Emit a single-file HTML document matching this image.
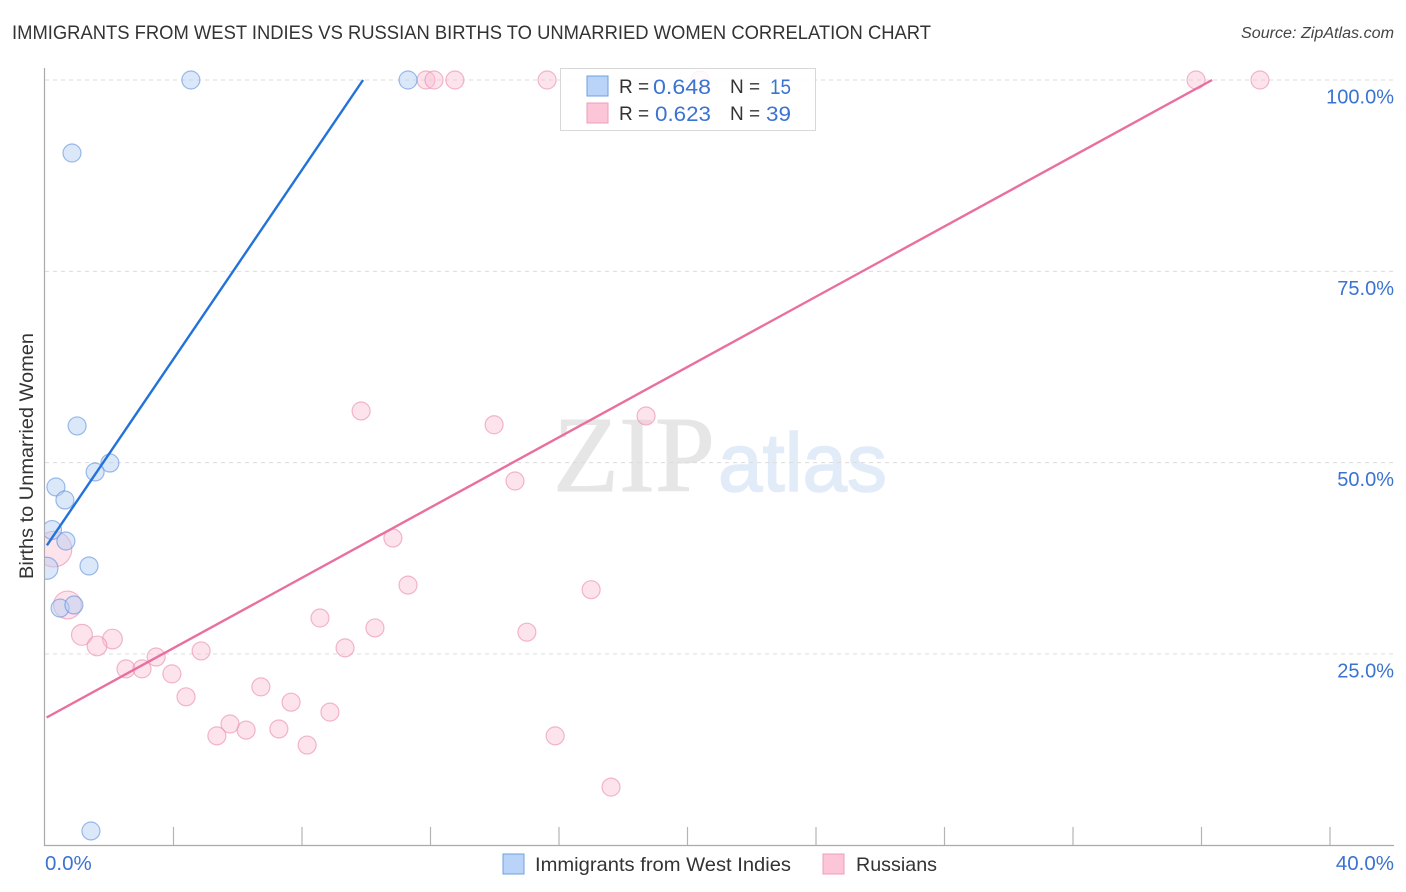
<!DOCTYPE html>
<html lang="en">
<head>
<meta charset="utf-8">
<title>Immigrants from West Indies vs Russian Births to Unmarried Women Correlation Chart</title>
<style>
html,body{margin:0;padding:0;background:#fff;}
body{width:1406px;height:892px;overflow:hidden;}
svg{display:block;}
text{font-family:"Liberation Sans",sans-serif;}
</style>
</head>
<body>
<svg id="chart" xmlns="http://www.w3.org/2000/svg" width="1406" height="892" viewBox="0 0 1406 892">
  <defs><clipPath id="plot-clip"><rect x="45" y="60" width="1349" height="786"/></clipPath></defs>
  <text x="12" y="39" font-size="19" fill="#333" textLength="919" lengthAdjust="spacingAndGlyphs">IMMIGRANTS FROM WEST INDIES VS RUSSIAN BIRTHS TO UNMARRIED WOMEN CORRELATION CHART</text>
  <text x="1394" y="38" font-size="15.5" font-style="italic" fill="#444" text-anchor="end" textLength="153" lengthAdjust="spacingAndGlyphs">Source: ZipAtlas.com</text>
  <g>
    <text x="553" y="491" font-size="108" fill="#e6e6e6" stroke="#e6e6e6" stroke-width="1" style="font-family:'Liberation Serif',serif" textLength="162" lengthAdjust="spacingAndGlyphs">ZIP</text>
    <text x="718" y="491" font-size="83" fill="#e2ecf9" stroke="#e2ecf9" stroke-width="1.5" textLength="169" lengthAdjust="spacingAndGlyphs">atlas</text>
  </g>
  <g id="grid"></g>
  <g id="axes"></g>
  <g id="points" clip-path="url(#plot-clip)"></g>
  <g id="trends"></g>
  <text transform="translate(33,456) rotate(-90)" font-size="19" fill="#333" text-anchor="middle" textLength="246" lengthAdjust="spacingAndGlyphs">Births to Unmarried Women</text>

  <g>
    <rect x="560.5" y="68.5" width="255" height="62" fill="#fff" fill-opacity="0.85" stroke="#d8d8d8"/>
    <rect x="587" y="76" width="21" height="20" fill="#b9d4f8" stroke="#6f9fe0"/>
    <rect x="587" y="103" width="21" height="20" fill="#fcc5d8" stroke="#ee9db8"/>
    <text x="619" y="93" font-size="19" fill="#333">R =</text>
    <text x="653" y="94" font-size="21" fill="#3b73d1" textLength="58" lengthAdjust="spacingAndGlyphs">0.648</text>
    <text x="730" y="93" font-size="19" fill="#333">N =</text>
    <text x="770" y="94" font-size="21" fill="#3b73d1" textLength="21" lengthAdjust="spacingAndGlyphs">15</text>
    <text x="619" y="120" font-size="19" fill="#333">R =</text>
    <text x="655" y="121" font-size="21" fill="#3b73d1" textLength="56" lengthAdjust="spacingAndGlyphs">0.623</text>
    <text x="730" y="120" font-size="19" fill="#333">N =</text>
    <text x="766" y="121" font-size="21" fill="#3b73d1" textLength="25" lengthAdjust="spacingAndGlyphs">39</text>
  </g>

  <g>
    <rect x="503" y="854" width="21" height="20" fill="#b9d4f8" stroke="#6f9fe0"/>
    <text x="535" y="871" font-size="19.5" fill="#333" textLength="256" lengthAdjust="spacingAndGlyphs">Immigrants from West Indies</text>
    <rect x="823" y="854" width="21" height="20" fill="#fcc5d8" stroke="#ee9db8"/>
    <text x="856" y="871" font-size="19.5" fill="#333" textLength="81" lengthAdjust="spacingAndGlyphs">Russians</text>
  </g>
</svg>
<script>
// Tick data
const xTickValues = [0, 4, 8, 12, 16, 20, 24, 28, 32, 36, 40];
const xEdgeTickValues = [0, 40];
const xEdgeTickLabels = ['0.0%', '40.0%'];
const yTickValues = [25, 50, 75, 100];
const yTickLabels = ['25.0%', '50.0%', '75.0%', '100.0%'];

// Immigrants from West Indies: x %, y %, relative marker weight
const blueX = [4.54, 11.30, 0.84, 1.00, 2.02, 1.56, 0.34, 0.62, 0.22, 0.65, 1.37, 0.06, 0.47, 0.90, 1.43];
const blueY = [100, 100, 90.46, 54.8, 49.95, 48.78, 46.82, 45.12, 41.2, 39.76, 36.5, 36.2, 31.0, 31.4, 1.87];
const blueW = [1, 1, 1, 1, 1, 1, 1, 1, 1.1, 1, 1, 1.5, 1, 1, 1];

// Russians: x %, y %, relative marker weight
const pinkX = [11.86, 12.11, 12.76, 15.63, 20.39, 35.83, 37.82, 9.84, 13.98, 18.71, 14.63, 10.83, 11.30, 17.0, 8.56, 10.27, 15.0, 9.34, 0.28, 0.70, 1.15, 2.10, 1.62, 2.52, 3.02, 3.46, 3.95, 4.86, 4.39, 6.72, 7.66, 8.87, 5.76, 5.35, 6.26, 7.28, 8.16, 15.88, 17.62];
const pinkY = [100, 100, 100, 100, 100, 100, 100, 56.75, 54.95, 56.1, 47.6, 40.15, 34.0, 33.4, 29.7, 28.4, 27.85, 25.8, 38.7, 31.4, 27.5, 26.95, 26.05, 23.05, 23.05, 24.6, 22.4, 25.4, 19.4, 20.7, 18.7, 17.4, 15.85, 14.3, 15.05, 15.2, 13.1, 14.3, 7.6];
const pinkW = [1, 1, 1, 1, 1, 1, 1, 1, 1, 1, 1, 1, 1, 1, 1, 1, 1, 1, 3.9, 2.4, 1.35, 1.2, 1.2, 1, 1, 1, 1, 1, 1, 1, 1, 1, 1, 1, 1, 1, 1, 1, 1];

// Trend line end points: x %, y %
const blueTrendX = [0.06, 9.9];
const blueTrendY = [39.2, 100];
const pinkTrendX = [0.05, 36.33];
const pinkTrendY = [16.7, 100];

const SVG_NS = 'http://www.w3.org/2000/svg';
function xScale(v) { return 45 + v * 32.125; }
function yScale(v) { return 845.3 - v * 7.653; }
function rScale(w) { return 9 * Math.sqrt(w); }
function make(tag, parent, attrs) {
  const el = document.createElementNS(SVG_NS, tag);
  for (const k in attrs) el.setAttribute(k, attrs[k]);
  parent.appendChild(el);
  return el;
}

const grid = document.getElementById('grid');
const axes = document.getElementById('axes');
const points = document.getElementById('points');
const trends = document.getElementById('trends');

yTickValues.forEach(function (v, i) {
  const y = yScale(v);
  const line = make('line', grid, { x1: 45, x2: 1394, y1: y, y2: y, stroke: '#dcdcdc', 'stroke-width': 1, 'stroke-dasharray': '4 4' });
  
  
  const label = make('text', axes, { x: 1394, y: y + 23.5, 'font-size': 20, fill: '#3b73d1', 'text-anchor': 'end' });
  label.textContent = yTickLabels[i];
  
  
});

const yAxisLine = make('line', axes, { x1: 44.5, x2: 44.5, y1: 68, y2: 846, stroke: '#aaaaaa', 'stroke-width': 1.2 });


const xAxisLine = make('line', axes, { x1: 44, x2: 1394, y1: 845.5, y2: 845.5, stroke: '#aaaaaa', 'stroke-width': 1.2 });



xTickValues.forEach(function (v) {
  if (v === 0) return;
  const x = xScale(v);
  const tick = make('line', axes, { x1: x, x2: x, y1: 827, y2: 845, stroke: '#b4b4b4', 'stroke-width': 1.2 });
  
  
});

xEdgeTickValues.forEach(function (v, i) {
  const atStart = i === 0;
  const label = make('text', axes, { x: atStart ? xScale(v) : 1394, y: 870, 'font-size': 20.5, fill: '#3b73d1', 'text-anchor': atStart ? 'start' : 'end' });
  label.textContent = xEdgeTickLabels[i];
  
  
});

pinkX.forEach(function (v, i) {
  const c = make('circle', points, { cx: xScale(v), cy: yScale(pinkY[i]), r: rScale(pinkW[i]), fill: '#fbbcd2', 'fill-opacity': 0.42, stroke: '#e98bac', 'stroke-opacity': 0.6, 'stroke-width': 1.2 });
  
  
});
blueX.forEach(function (v, i) {
  const c = make('circle', points, { cx: xScale(v), cy: yScale(blueY[i]), r: rScale(blueW[i]), fill: '#b3cff5', 'fill-opacity': 0.48, stroke: '#5f90dc', 'stroke-opacity': 0.6, 'stroke-width': 1.2 });
  
  
});

const blueTrend = make('line', trends, { x1: xScale(blueTrendX[0]), y1: yScale(blueTrendY[0]), x2: xScale(blueTrendX[1]), y2: yScale(blueTrendY[1]), stroke: '#2272d9', 'stroke-width': 2.4 });


const pinkTrend = make('line', trends, { x1: xScale(pinkTrendX[0]), y1: yScale(pinkTrendY[0]), x2: xScale(pinkTrendX[1]), y2: yScale(pinkTrendY[1]), stroke: '#e96f9e', 'stroke-width': 2.4 });


</script>
</body>
</html>
